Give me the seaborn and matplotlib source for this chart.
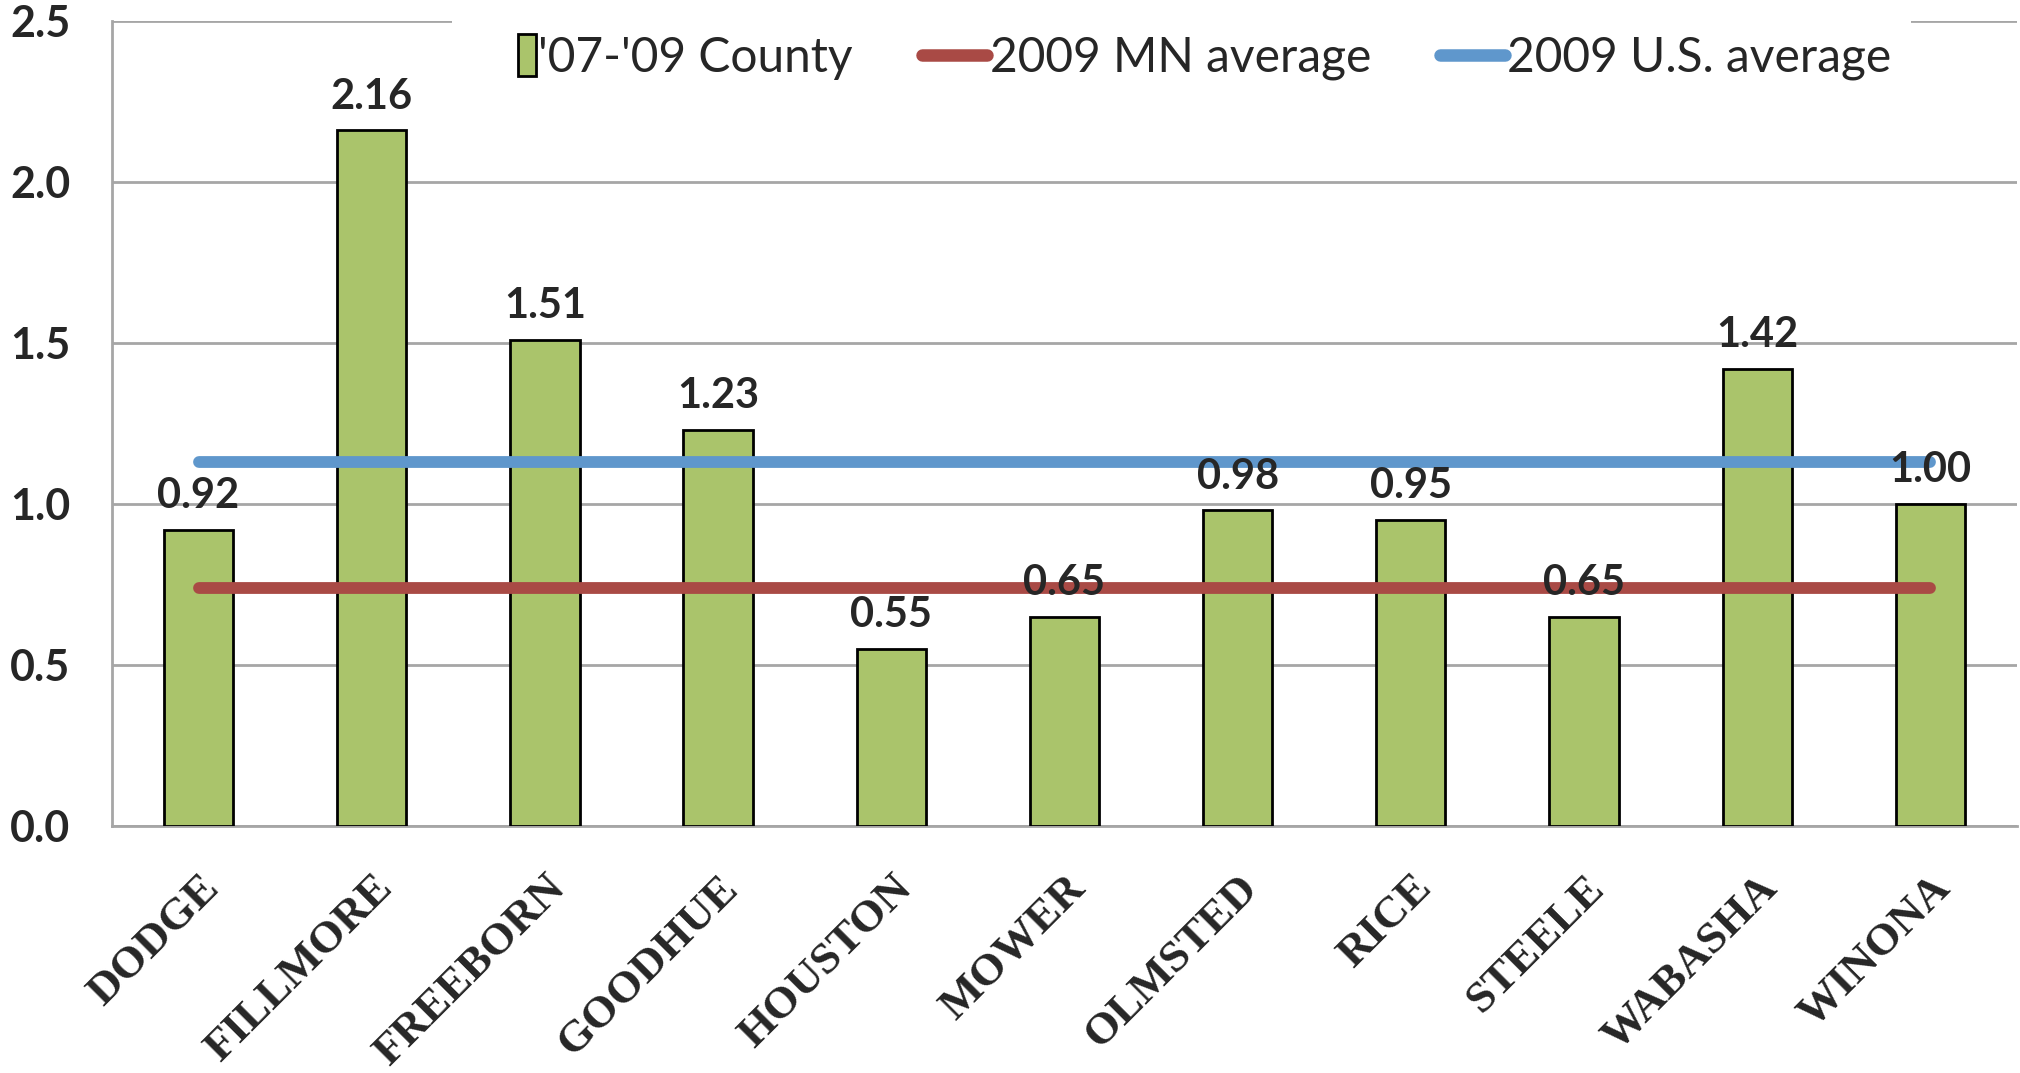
import matplotlib
matplotlib.use("Agg")
import matplotlib.pyplot as plt
import seaborn as sns
import pandas as pd
from matplotlib.patches import Rectangle
from matplotlib.lines import Line2D
from matplotlib.legend_handler import HandlerPatch
from matplotlib.ticker import FixedLocator, FormatStrFormatter

# data
counties = ["DODGE", "FILLMORE", "FREEBORN", "GOODHUE", "HOUSTON", "MOWER",
            "OLMSTED", "RICE", "STEELE", "WABASHA", "WINONA"]
county_rates = [0.92, 2.16, 1.51, 1.23, 0.55, 0.65, 0.98, 0.95, 0.65, 1.42, 1.00]
mn_average = 0.74
us_average = 1.13
series_names = ["'07-'09 County", "2009 MN average", "2009 U.S. average"]
y_ticks = [0.0, 0.5, 1.0, 1.5, 2.0, 2.5]

bar_color = "#AAC46B"
mn_color = "#A94A45"
us_color = "#5F97CC"
grid_color = "#A6A6A6"

sns.set_style("white")
plt.rcParams["font.family"] = ["Lato", "DejaVu Sans"]

df = pd.DataFrame({"county": counties, "rate": county_rates})

fig = plt.figure(figsize=(20.2, 10.73), dpi=100)
ax = fig.add_axes([0.0554, 0.2302, 0.9431, 0.7505])

sns.barplot(data=df, x="county", y="rate", color=bar_color, saturation=1,
            edgecolor="black", linewidth=2, width=0.4, ax=ax, zorder=3)

# average lines across the categories
ax.plot(counties, [mn_average] * len(counties), color=mn_color, lw=8.5,
        solid_capstyle="round", zorder=4)
ax.plot(counties, [us_average] * len(counties), color=us_color, lw=8.5,
        solid_capstyle="round", zorder=4)

# value labels above bars
for i, v in enumerate(county_rates):
    ax.text(i, v + 0.045, f"{v:.2f}", ha="center", va="bottom",
            fontsize=30, fontweight="bold", zorder=6)

ax.set_xlim(-0.5, len(counties) - 0.5)
ax.set_ylim(0, 2.5)
ax.yaxis.set_major_locator(FixedLocator(y_ticks))
ax.yaxis.set_major_formatter(FormatStrFormatter("%.1f"))
ax.grid(axis="y", color=grid_color, lw=2, zorder=0)
ax.set_axisbelow(True)
ax.set_xlabel("")
ax.set_ylabel("")

for side in ["top", "right"]:
    ax.spines[side].set_visible(False)
for side in ["left", "bottom"]:
    ax.spines[side].set_color(grid_color)
    ax.spines[side].set_linewidth(2)

ax.tick_params(axis="y", length=10, width=2, color=grid_color, pad=20,
               labelsize=31, direction="out")
for lbl in ax.get_yticklabels():
    lbl.set_fontweight("bold")

# category boundary ticks
ax.set_xticks([i - 0.5 for i in range(len(counties) + 1)], minor=True)
ax.tick_params(axis="x", which="minor", length=8, width=2, color=grid_color,
               direction="out")
ax.tick_params(axis="x", which="major", length=0, pad=30)
ax.set_xticks(range(len(counties)))
ax.set_xticklabels(counties, rotation=45, ha="right", rotation_mode="anchor",
                   family=["Liberation Serif", "DejaVu Serif"],
                   fontweight="bold", fontsize=32.5)


def tall_patch(legend, orig_handle, xdescent, ydescent, width, height, fontsize):
    w = 13
    h = height * 1.25
    return Rectangle((-xdescent + width - w, -ydescent - (h - height) / 2), w, h)


handles = [
    Rectangle((0, 0), 1, 1, facecolor=bar_color, edgecolor="black", lw=2),
    Line2D([], [], color=mn_color, lw=9, solid_capstyle="round"),
    Line2D([], [], color=us_color, lw=9, solid_capstyle="round"),
]
leg = fig.legend(handles, series_names, loc="center left",
                 bbox_to_anchor=(0.212, 0.946), ncol=3, frameon=True,
                 facecolor="white", edgecolor="none", framealpha=1,
                 fancybox=False, borderpad=0.4, handlelength=1.35,
                 handletextpad=0.05, columnspacing=1.45,
                 prop={"family": ["Lato", "DejaVu Sans"], "size": 34.5},
                 handler_map={Rectangle: HandlerPatch(patch_func=tall_patch)})
leg.set_zorder(10)

fig.savefig("out.png", dpi=100)
